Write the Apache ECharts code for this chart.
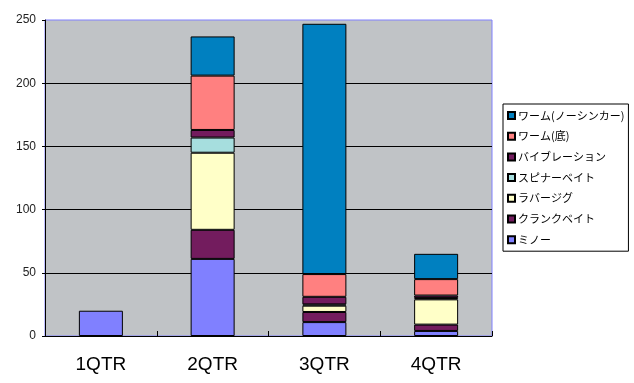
<!DOCTYPE html>
<html><head><meta charset="utf-8">
<script src="https://cdn.jsdelivr.net/npm/echarts@6/dist/echarts.min.js"></script>
<style>html,body{margin:0;padding:0;background:#fff}#c{width:634px;height:383px}</style>
</head><body><div id="c"></div>
<script>
const categories = ['1QTR', '2QTR', '3QTR', '4QTR'];
const seriesNames = ['ミノー', 'クランクベイト', 'ラバージグ', 'スピナーベイト', 'バイブレーション', 'ワーム(底)', 'ワーム(ノーシンカー)'];
const minnow   = [20, 61, 11, 4];
const crank    = [null, 23, 8, 5];
const rubberJig= [null, 61, 5, 20];
const spinner  = [null, 12, 1, 1];
const vibration= [null, 6, 6, 2];
const wormBottom=[null, 43, 18, 13];
const wormNoSinker=[null, 31, 198, 20];
const yTicks = [0, 50, 100, 150, 200, 250];
const colors = ['#8080FF', '#731C5E', '#FFFFC8', '#A6DEDE', '#731C5E', '#FF8080', '#0080C0'];
const values = [minnow, crank, rubberJig, spinner, vibration, wormBottom, wormNoSinker];

const chart = echarts.init(document.getElementById('c'), null, {renderer: 'canvas'});
chart.setOption({
  backgroundColor: '#fff',
  animation: false,
  grid: {left: 45, top: 20, right: 142, bottom: 47, show: true, backgroundColor: '#C0C3C6', borderColor: '#8080FF', borderWidth: 1},
  xAxis: {
    type: 'category', data: categories,
    axisLine: {lineStyle: {color: '#000', width: 1}},
    axisTick: {show: true, inside: true, length: 5, lineStyle: {color: '#000'}},
    axisLabel: {color: '#000', fontSize: 19, fontFamily: 'Liberation Sans, Arial, sans-serif', margin: 19}
  },
  yAxis: {
    type: 'value', min: yTicks[0], max: yTicks[yTicks.length - 1], interval: 50,
    axisLine: {show: true, lineStyle: {color: '#000', width: 1}},
    axisTick: {show: true, length: 3, lineStyle: {color: '#000'}},
    axisLabel: {color: '#222', fontSize: 12, fontFamily: 'Liberation Sans, Arial, sans-serif', margin: 9},
    splitLine: {show: true, showMinLine: false, showMaxLine: false, lineStyle: {color: '#000', width: 1}}
  },
  legend: {
    orient: 'vertical', left: 503, top: 104,
    data: seriesNames.slice().reverse(),
    icon: 'rect', itemWidth: 7, itemHeight: 7, itemGap: 9.7,
    padding: [6, 4, 6, 4],
    borderColor: '#000', borderWidth: 1, backgroundColor: '#fff',
    textStyle: {fontSize: 11, color: '#000', fontFamily: 'Noto Sans CJK JP', padding: [0, 0, 0, -2]}
  },
  series: seriesNames.map((n, i) => ({
    name: n, type: 'bar', stack: 'total', barWidth: 44,
    data: values[i],
    itemStyle: {color: colors[i], borderColor: '#000', borderWidth: 1}
  }))
});
</script></body></html>
